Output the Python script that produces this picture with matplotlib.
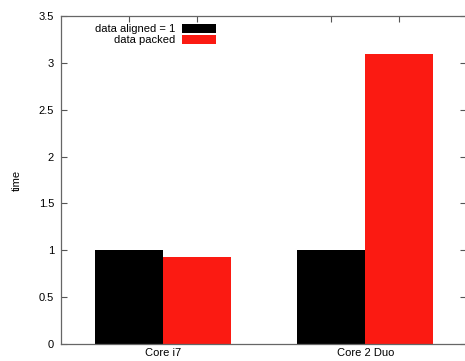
import numpy as np
import matplotlib.pyplot as plt

plt.rcParams['font.family'] = ['Liberation Sans', 'DejaVu Sans']

cpus = ["Core i7", "Core 2 Duo"]
aligned = [1.0, 1.0]
packed = [0.93, 3.09]

x = np.arange(len(cpus))
w = 0.337

fig = plt.figure(figsize=(4.65, 3.61), dpi=100)
ax = fig.add_axes([0.131, 0.047, 0.872, 0.909])

ax.bar(x - w / 2, aligned, w, color='black', label='data aligned = 1')
ax.bar(x + w / 2, packed, w, color='#fb1a12', label='data packed')

ax.set_xlim(-0.505, 1.5)
ax.set_ylim(0, 3.5)
ax.set_yticks(np.arange(0, 3.51, 0.5))
ax.set_yticklabels(['0', '0.5', '1', '1.5', '2', '2.5', '3', '3.5'])
ax.set_xticks(x)
ax.set_xticklabels(cpus)
ax.set_ylabel('time', fontsize=8, labelpad=12)

ax.tick_params(axis='both', direction='in', length=4, width=0.8, color='#555555',
               labelsize=8, pad=5, right=True)
ax.tick_params(axis='x', length=0, pad=3)

# top ticks at bar centres, like gnuplot's mirrored tics
top = ax.secondary_xaxis('top')
top.set_xticks(np.concatenate([x - w / 2, x + w / 2]))
top.tick_params(direction='in', length=4, width=0.8, color='#555555', labeltop=False)
top.spines['top'].set_visible(False)

for s in ax.spines.values():
    s.set_color('#666666')
    s.set_linewidth(0.9)

leg = ax.legend(loc='upper left', bbox_to_anchor=(0.066, 1.0), frameon=False,
                fontsize=8, markerfirst=False, handlelength=3.0, handleheight=0.85,
                handletextpad=0.6, labelspacing=0.1, borderaxespad=0.3)
for t in leg.get_texts():
    t.set_ha('right')

fig.savefig('out.png', dpi=100)
